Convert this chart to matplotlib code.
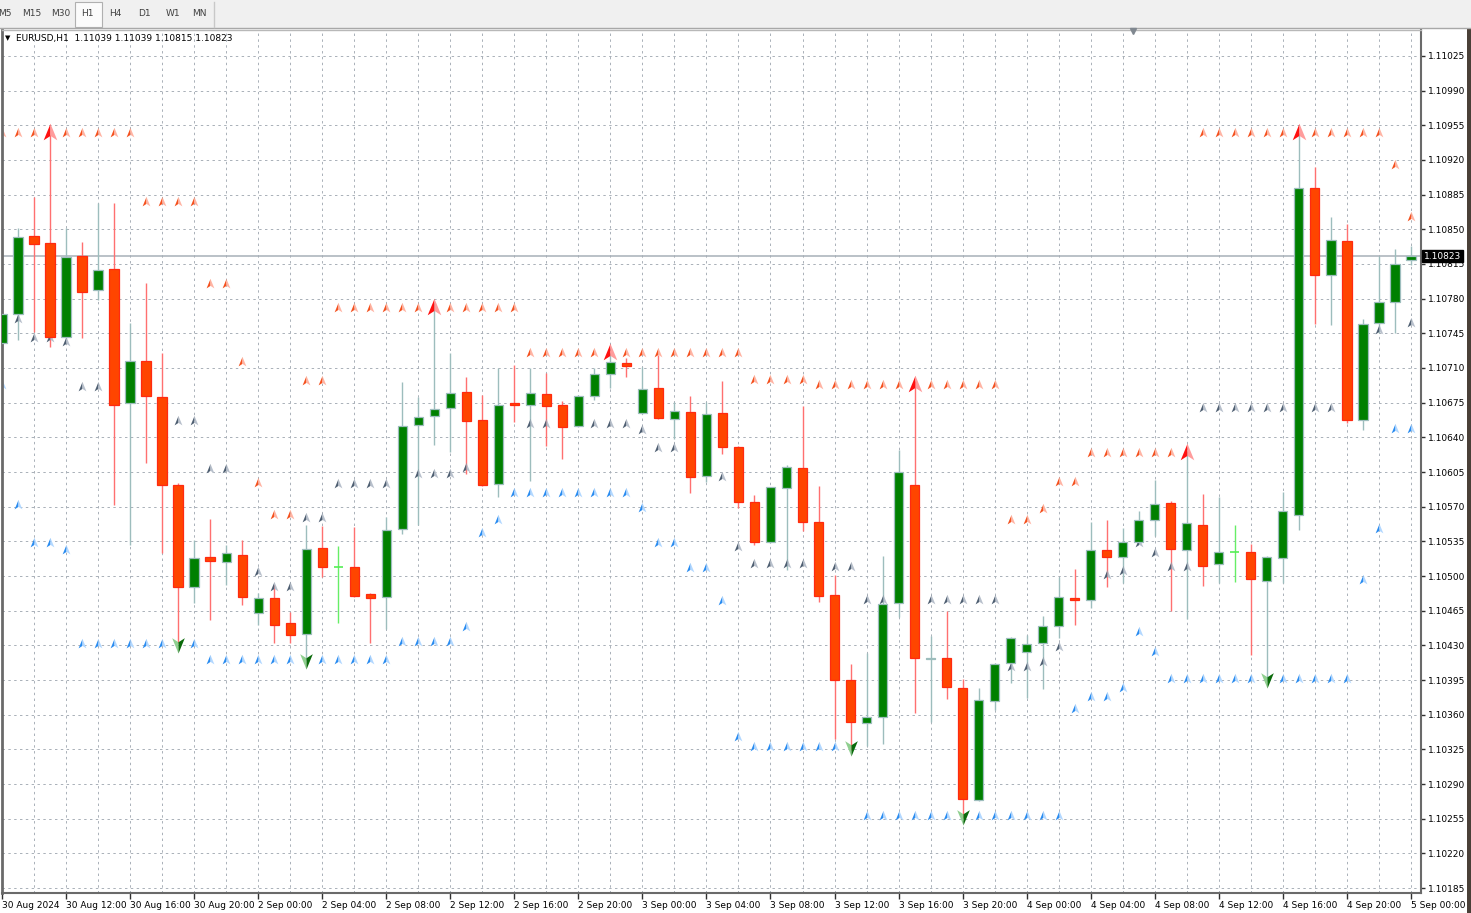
import matplotlib
matplotlib.use('Agg')
import matplotlib.pyplot as plt
import matplotlib.transforms as mtransforms
from matplotlib.path import Path
from matplotlib.patches import Rectangle
import numpy as np

plt.rcParams['font.family'] = ['DejaVu Sans']

# ---------------- data (EURUSD H1, 30 Aug 08:00 -> 5 Sep 00:00) ----------------
opens = [
    1.10735, 1.10765, 1.10843, 1.10836, 1.10741, 1.10823, 1.10789, 1.10810, 1.10675, 1.10717,
    1.10681, 1.10592, 1.10489, 1.10519, 1.10514, 1.10521, 1.10463, 1.10478, 1.10453, 1.10441,
    1.10528, 1.10509, 1.10509, 1.10482, 1.10479, 1.10547, 1.10652, 1.10662, 1.10670, 1.10686,
    1.10657, 1.10593, 1.10675, 1.10673, 1.10684, 1.10673, 1.10651, 1.10682, 1.10704, 1.10715,
    1.10665, 1.10690, 1.10659, 1.10666, 1.10601, 1.10665, 1.10630, 1.10575, 1.10534, 1.10589,
    1.10609, 1.10555, 1.10481, 1.10395, 1.10352, 1.10358, 1.10473, 1.10592, 1.10416, 1.10417,
    1.10387, 1.10274, 1.10374, 1.10412, 1.10423, 1.10432, 1.10450, 1.10478, 1.10476, 1.10526,
    1.10519, 1.10534, 1.10557, 1.10574, 1.10526, 1.10552, 1.10512, 1.10524, 1.10524, 1.10495,
    1.10518, 1.10562, 1.10892, 1.10804, 1.10838, 1.10657, 1.10755, 1.10777, 1.10819]
highs = [
    1.10769, 1.10851, 1.10883, 1.10945, 1.10851, 1.10837, 1.10877, 1.10877, 1.10755, 1.10796,
    1.10725, 1.10594, 1.10536, 1.10558, 1.10531, 1.10536, 1.10483, 1.10491, 1.10464, 1.10551,
    1.10550, 1.10530, 1.10549, 1.10483, 1.10560, 1.10696, 1.10681, 1.10776, 1.10725, 1.10701,
    1.10683, 1.10710, 1.10713, 1.10710, 1.10705, 1.10677, 1.10683, 1.10710, 1.10725, 1.10720,
    1.10711, 1.10723, 1.10676, 1.10682, 1.10676, 1.10697, 1.10631, 1.10582, 1.10590, 1.10612,
    1.10672, 1.10591, 1.10501, 1.10411, 1.10422, 1.10520, 1.10627, 1.10697, 1.10439, 1.10465,
    1.10396, 1.10387, 1.10412, 1.10438, 1.10440, 1.10460, 1.10499, 1.10507, 1.10555, 1.10557,
    1.10548, 1.10566, 1.10597, 1.10576, 1.10626, 1.10583, 1.10580, 1.10552, 1.10532, 1.10520,
    1.10585, 1.10947, 1.10913, 1.10862, 1.10855, 1.10759, 1.10823, 1.10830, 1.10833]
lows = [
    1.10733, 1.10738, 1.10746, 1.10731, 1.10740, 1.10740, 1.10779, 1.10572, 1.10531, 1.10614,
    1.10523, 1.10432, 1.10473, 1.10456, 1.10491, 1.10471, 1.10451, 1.10432, 1.10432, 1.10415,
    1.10499, 1.10453, 1.10479, 1.10432, 1.10447, 1.10542, 1.10552, 1.10632, 1.10625, 1.10603,
    1.10591, 1.10580, 1.10655, 1.10596, 1.10631, 1.10618, 1.10650, 1.10678, 1.10690, 1.10701,
    1.10664, 1.10659, 1.10638, 1.10584, 1.10595, 1.10623, 1.10569, 1.10531, 1.10533, 1.10506,
    1.10545, 1.10474, 1.10335, 1.10324, 1.10328, 1.10330, 1.10459, 1.10362, 1.10353, 1.10376,
    1.10256, 1.10273, 1.10365, 1.10392, 1.10377, 1.10386, 1.10437, 1.10451, 1.10468, 1.10489,
    1.10493, 1.10533, 1.10540, 1.10465, 1.10457, 1.10490, 1.10493, 1.10494, 1.10420, 1.10394,
    1.10493, 1.10546, 1.10754, 1.10753, 1.10654, 1.10647, 1.10745, 1.10745, 1.10814]
closes = [
    1.10764, 1.10842, 1.10835, 1.10741, 1.10822, 1.10787, 1.10809, 1.10673, 1.10717, 1.10682,
    1.10592, 1.10489, 1.10518, 1.10515, 1.10523, 1.10479, 1.10478, 1.10451, 1.10440, 1.10527,
    1.10509, 1.10509, 1.10480, 1.10478, 1.10546, 1.10651, 1.10661, 1.10669, 1.10685, 1.10656,
    1.10592, 1.10673, 1.10673, 1.10685, 1.10672, 1.10650, 1.10682, 1.10704, 1.10716, 1.10712,
    1.10689, 1.10660, 1.10667, 1.10600, 1.10664, 1.10630, 1.10575, 1.10534, 1.10590, 1.10610,
    1.10555, 1.10480, 1.10395, 1.10353, 1.10358, 1.10472, 1.10605, 1.10417, 1.10417, 1.10388,
    1.10275, 1.10375, 1.10411, 1.10437, 1.10431, 1.10450, 1.10479, 1.10476, 1.10526, 1.10519,
    1.10534, 1.10557, 1.10573, 1.10527, 1.10554, 1.10510, 1.10524, 1.10524, 1.10497, 1.10519,
    1.10566, 1.10892, 1.10804, 1.10839, 1.10657, 1.10754, 1.10777, 1.10815, 1.10823]

x_tick_labels = ["30 Aug 2024", "30 Aug 12:00", "30 Aug 16:00", "30 Aug 20:00",
                 "2 Sep 00:00", "2 Sep 04:00", "2 Sep 08:00", "2 Sep 12:00",
                 "2 Sep 16:00", "2 Sep 20:00", "3 Sep 00:00", "3 Sep 04:00",
                 "3 Sep 08:00", "3 Sep 12:00", "3 Sep 16:00", "3 Sep 20:00",
                 "4 Sep 00:00", "4 Sep 04:00", "4 Sep 08:00", "4 Sep 12:00",
                 "4 Sep 16:00", "4 Sep 20:00", "5 Sep 00:00"]
y_ticks = [1.10185, 1.10220, 1.10255, 1.10290, 1.10325, 1.10360, 1.10395, 1.10430,
           1.10465, 1.10500, 1.10535, 1.10570, 1.10605, 1.10640, 1.10675, 1.10710,
           1.10745, 1.10780, 1.10815, 1.10850, 1.10885, 1.10920, 1.10955, 1.10990, 1.11025]
bid_price = 1.10823
header_text = "EURUSD,H1  1.11039 1.11039 1.10815 1.10823"
timeframes = ["M5", "M15", "M30", "H1", "H4", "D1", "W1", "MN"]

# indicator levels: (first bar, last bar, price)
red_levels = [(0, 8, 1.10947), (9, 12, 1.10878), (13, 14, 1.10795), (15, 15, 1.10716),
              (16, 16, 1.10594), (17, 18, 1.10562), (19, 20, 1.10697), (21, 32, 1.10771),
              (33, 46, 1.10725), (47, 50, 1.10698), (51, 62, 1.10693), (63, 64, 1.10557),
              (65, 65, 1.10568), (66, 67, 1.10595), (68, 74, 1.10624), (75, 86, 1.10947),
              (87, 87, 1.10915), (88, 88, 1.10862)]
blue_levels = [(0, 0, 1.10693), (1, 1, 1.10572), (2, 3, 1.10533), (4, 4, 1.10526),
               (5, 12, 1.10431), (13, 24, 1.10415), (25, 28, 1.10433), (29, 29, 1.10449),
               (30, 30, 1.10543), (31, 31, 1.10557), (32, 39, 1.10584), (40, 40, 1.10569),
               (41, 42, 1.10533), (43, 44, 1.10508), (45, 45, 1.10475), (46, 46, 1.10337),
               (47, 53, 1.10327), (54, 66, 1.10258), (67, 67, 1.10366), (68, 69, 1.10378),
               (70, 70, 1.10387), (71, 71, 1.10443), (72, 72, 1.10423), (73, 84, 1.10396),
               (85, 85, 1.10496), (86, 86, 1.10547), (87, 88, 1.10648)]
gray_levels = [(1, 1, 1.10759), (2, 3, 1.10740), (4, 4, 1.10736), (5, 6, 1.10691),
               (11, 12, 1.10656), (13, 14, 1.10608), (16, 16, 1.10504), (17, 18, 1.10489),
               (19, 20, 1.10559), (21, 24, 1.10593), (26, 28, 1.10603), (29, 29, 1.10609),
               (33, 34, 1.10653), (37, 39, 1.10653), (40, 40, 1.10647), (41, 42, 1.10629),
               (45, 45, 1.10600), (46, 46, 1.10529), (47, 50, 1.10512), (52, 53, 1.10509),
               (54, 55, 1.10476), (58, 62, 1.10476), (63, 64, 1.10408), (65, 65, 1.10413),
               (66, 66, 1.10428), (69, 69, 1.10501), (70, 70, 1.10505), (71, 71, 1.10533),
               (72, 72, 1.10523), (73, 74, 1.10509), (75, 80, 1.10670), (82, 83, 1.10670),
               (86, 86, 1.10748), (88, 88, 1.10755)]
big_up_bars = [3, 27, 38, 57, 74, 81]
big_down_bars = [11, 19, 53, 60, 79]

# ---------------- figure ----------------
W, H = 1471, 913
fig = plt.figure(figsize=(W / 100, H / 100), dpi=100)
fig.patch.set_facecolor('white')


def fx(px):
    return px / W


def fy(py):
    return 1 - py / H


ax = fig.add_axes([fx(2), fy(893), fx(1421) - fx(2), fy(30) - fy(893)])
ax.set_facecolor('white')
n = len(opens)
xs = np.arange(n)
O = np.array(opens); Hh = np.array(highs); L = np.array(lows); C = np.array(closes)

ax.set_xlim(0, 88.63)
ax.set_ylim(1.101800, 1.110512)

# grid
grid_col = '#a9b0b8'
for v in y_ticks:
    ax.axhline(v, color=grid_col, lw=0.7, ls=(0, (2.5, 3.5)), zorder=0.5)
for i in range(2, 89, 2):
    ax.axvline(i, color=grid_col, lw=0.7, ls=(0, (2.5, 3.5)), zorder=0.5)

# bid line
ax.axhline(bid_price, color='#a7b0b8', lw=1.1, zorder=1.0)

# candles
bull = C > O
bear = C < O
doji = C == O
bull_edge = '#9dbdbd'
bear_wick = '#ff7070'
wick_cols = [bull_edge if not be else bear_wick for be in bear]
wick_cols = [('#66ee66' if d else c) for d, c in zip(doji, wick_cols)]
ax.vlines(xs, L, Hh, colors=wick_cols, lw=1.0, zorder=2)

bw = 0.58
ax.bar(xs[bull], (C - O)[bull], bottom=O[bull], width=bw, color='#008000',
       edgecolor=bull_edge, linewidth=0.9, zorder=3)
ax.bar(xs[bear], (O - C)[bear], bottom=C[bear], width=bw, color='#ff4500',
       edgecolor='#ff2a10', linewidth=0.9, zorder=3)
ax.hlines(O[doji], xs[doji] - bw / 2, xs[doji] + bw / 2, colors='#55ee55', lw=1.2, zorder=3)

# arrow markers
left_up = Path([(0, 1), (-0.7, -0.7), (0, -0.25), (0, 0)],
               [Path.MOVETO, Path.LINETO, Path.LINETO, Path.CLOSEPOLY])
right_up = Path([(0, 1), (0.7, -0.7), (0, -0.25), (0, 0)],
                [Path.MOVETO, Path.LINETO, Path.LINETO, Path.CLOSEPOLY])
left_dn = Path([(0, -1), (-0.7, 0.7), (0, 0.25), (0, 0)],
               [Path.MOVETO, Path.LINETO, Path.LINETO, Path.CLOSEPOLY])
right_dn = Path([(0, -1), (0.7, 0.7), (0, 0.25), (0, 0)],
                [Path.MOVETO, Path.LINETO, Path.LINETO, Path.CLOSEPOLY])


def expand(levels, skip=()):
    px, py = [], []
    for a, b, v in levels:
        for i in range(a, b + 1):
            if i in skip:
                continue
            px.append(i)
            py.append(v)
    return px, py


def draw_small(levels, cl, cr, skip=()):
    px, py = expand(levels, skip)
    ax.plot(px, py, ls='none', marker=left_up, ms=8, mfc=cl, mec='none', zorder=2.5)
    ax.plot(px, py, ls='none', marker=right_up, ms=8, mfc=cr, mec='none', zorder=2.5)


draw_small(red_levels, '#f4511e', '#ffb4a4', skip=set(big_up_bars))
draw_small(blue_levels, '#2a8cf0', '#b3d8ff', skip=set(big_down_bars))
draw_small(gray_levels, '#4f5f72', '#b8c0cc')

lvl_red = dict()
for a, b, v in red_levels:
    for i in range(a, b + 1):
        lvl_red[i] = v
lvl_blue = dict()
for a, b, v in blue_levels:
    for i in range(a, b + 1):
        lvl_blue[i] = v
ux = big_up_bars
uy = [lvl_red[i] for i in ux]
ax.plot(ux, uy, ls='none', marker=left_up, ms=14, mfc='#ff1010', mec='none', zorder=4)
ax.plot(ux, uy, ls='none', marker=right_up, ms=14, mfc='#ff9c9c', mec='none', zorder=4)
dx = big_down_bars
dy = [lvl_blue[i] for i in dx]
ax.plot(dx, dy, ls='none', marker=left_dn, ms=13, mfc='#8fcf8f', mec='none', zorder=4)
ax.plot(dx, dy, ls='none', marker=right_dn, ms=13, mfc='#0a6a0a', mec='none', zorder=4)

# axes styling
for s in ['left', 'bottom', 'right']:
    ax.spines[s].set_color('#6a6a6a')
ax.spines['left'].set_linewidth(2.0)
ax.spines['bottom'].set_linewidth(1.5)
ax.spines['right'].set_linewidth(1.5)
ax.spines['top'].set_color('#b8b8b8')
ax.spines['top'].set_linewidth(1.0)

ax.yaxis.tick_right()
ax.set_yticks(y_ticks)
ax.set_yticklabels([f"{v:.5f}" for v in y_ticks])
ax.tick_params(axis='y', length=3, width=1, pad=2, labelsize=6.5, colors='#303030',
               labelcolor='black')
ax.set_xticks(list(range(0, 89, 4)))
ax.set_xticklabels(x_tick_labels)
ax.tick_params(axis='x', length=4, width=1, pad=2, labelsize=6.5, colors='#303030',
               labelcolor='black')
for lab in ax.get_xticklabels():
    lab.set_ha('left')

# bid price label
trans = mtransforms.blended_transform_factory(ax.transAxes, ax.transData)
ax.text(1.0022, bid_price, f"{bid_price:.5f}", transform=trans, ha='left', va='center',
        fontsize=6.5, color='white', zorder=10, clip_on=False,
        bbox=dict(boxstyle='square,pad=0.2', facecolor='black', edgecolor='black'))

# header
fig.text(fx(5), fy(38), "\u25BC", fontsize=5, va='center', ha='left', color='black')
fig.text(fx(16), fy(38), header_text, fontsize=6.5, va='center', ha='left', color='black')

# tab bar
fig.patches.append(Rectangle((0, fy(28)), 1, 28 / H, transform=fig.transFigure,
                             facecolor='#f0f0f0', edgecolor='none', zorder=0))
fig.lines.append(plt.Line2D([0, 1], [fy(28), fy(28)], transform=fig.transFigure,
                            color='#a8a8a8', lw=1.0))
fig.lines.append(plt.Line2D([fx(214), fx(214)], [fy(2), fy(27)], transform=fig.transFigure,
                            color='#c8c8c8', lw=1.0))
fig.patches.append(Rectangle((fx(75), fy(27)), fx(102) - fx(75), 25 / H,
                             transform=fig.transFigure, facecolor='#fbfbfb',
                             edgecolor='#b0b0b0', lw=0.8, zorder=1))
tab_x = [-2, 22, 51, 81, 109, 138, 166, 192]
for tx, t in zip(tab_x, timeframes):
    fig.text(fx(tx), fy(14), t, fontsize=6.5, va='center', ha='left', color='#404040')

# chart shift marker
fig.lines.append(plt.Line2D([fx(1133)], [fy(31)], transform=fig.transFigure,
                            marker='v', ms=5, color='#808890', ls='none'))
# right edge strip
fig.patches.append(Rectangle((fx(1467), 0), fx(4), fy(28), transform=fig.transFigure,
                             facecolor='#4a4038', edgecolor='none'))

fig.savefig('out.png', dpi=100, facecolor='white')
